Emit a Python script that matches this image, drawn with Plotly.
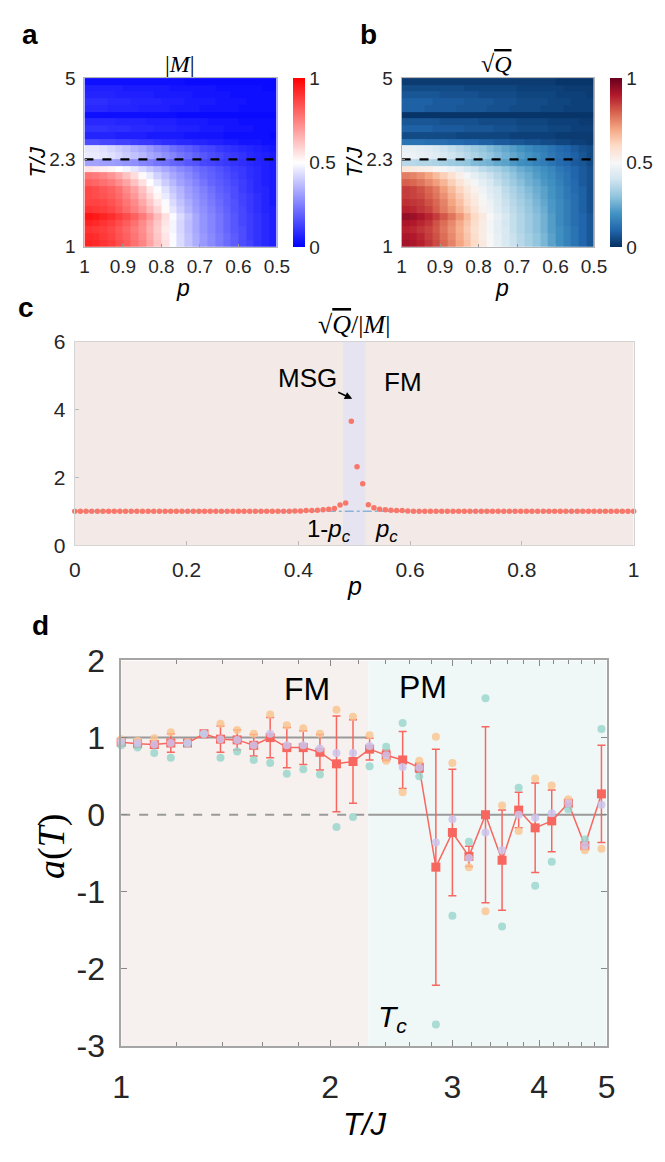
import math
import plotly.graph_objects as go

W, H = 665, 1162
def X(px): return px / W
def Y(py): return 1 - py / H

SANS = "Arial, 'Liberation Sans', sans-serif"
SERIF = "'Times New Roman', 'Liberation Serif', serif"
TICKC = "#262626"

# ---------------- panels a / b : heat maps ----------------
p_edges = [0.50, 0.52, 0.54, 0.56, 0.58, 0.60, 0.62, 0.64, 0.66, 0.68, 0.70, 0.72, 0.74,
           0.76, 0.78, 0.80, 0.82, 0.84, 0.86, 0.88, 0.90, 0.92, 0.94, 0.96, 0.98, 1.00]
T_edges = [1.0000, 1.0665, 1.1374, 1.2131, 1.2937, 1.3797, 1.4715, 1.5693, 1.6737, 1.7850,
           1.9037, 2.0302, 2.1652, 2.3092, 2.4627, 2.6265, 2.8011, 2.9874, 3.1860, 3.3979,
           3.6238, 3.8648, 4.1218, 4.3959, 4.6882, 5.0000]

# rows: T from low to high ; columns: p from 1.0 (left) to 0.5 (right)
M_abs = [
    [.93,.92,.90,.88,.85,.82,.78,.74,.68,.62,.56,.49,.43,.38,.34,.30,.27,.24,.21,.18,.15,.13,.10,.08,.06],
    [.92,.91,.89,.87,.84,.81,.77,.73,.67,.61,.55,.49,.43,.38,.34,.30,.27,.24,.21,.18,.15,.12,.10,.08,.06],
    [.90,.89,.88,.86,.83,.80,.76,.72,.66,.60,.54,.48,.42,.37,.33,.29,.26,.23,.20,.17,.15,.12,.10,.08,.06],
    [.93,.92,.90,.88,.85,.82,.78,.73,.67,.61,.55,.48,.42,.37,.33,.29,.26,.23,.20,.17,.14,.12,.10,.08,.06],
    [.96,.95,.93,.91,.88,.85,.81,.76,.70,.63,.56,.49,.43,.38,.33,.29,.26,.23,.20,.17,.14,.12,.10,.08,.06],
    [.90,.89,.88,.86,.83,.79,.75,.70,.64,.58,.51,.45,.40,.35,.31,.28,.25,.22,.19,.16,.14,.11,.09,.07,.06],
    [.87,.87,.86,.84,.81,.77,.73,.67,.61,.55,.49,.43,.38,.34,.30,.27,.24,.21,.18,.16,.13,.11,.09,.07,.05],
    [.86,.85,.84,.82,.79,.75,.70,.64,.58,.52,.46,.41,.36,.32,.29,.26,.23,.20,.18,.15,.13,.11,.09,.07,.05],
    [.86,.85,.83,.81,.78,.73,.68,.62,.55,.49,.44,.39,.35,.31,.28,.25,.22,.19,.17,.15,.12,.10,.08,.07,.05],
    [.81,.80,.78,.76,.72,.68,.62,.56,.50,.45,.40,.36,.32,.29,.26,.23,.20,.18,.16,.14,.12,.10,.08,.06,.05],
    [.77,.76,.74,.71,.67,.62,.57,.51,.46,.41,.37,.33,.30,.27,.24,.21,.19,.17,.15,.13,.11,.09,.08,.06,.05],
    [.55,.54,.53,.52,.50,.48,.45,.42,.39,.36,.33,.30,.27,.25,.22,.20,.18,.16,.14,.12,.11,.09,.08,.06,.05],
    [.32,.32,.31,.31,.30,.29,.28,.26,.25,.23,.22,.20,.19,.17,.16,.14,.13,.12,.11,.10,.09,.08,.07,.06,.05],
    [.46,.46,.45,.44,.42,.40,.38,.36,.33,.31,.28,.26,.23,.21,.19,.17,.15,.14,.12,.11,.10,.08,.07,.06,.05],
    [.45,.45,.44,.42,.40,.38,.35,.33,.30,.27,.25,.22,.20,.18,.16,.14,.13,.11,.10,.09,.08,.07,.06,.05,.04],
    [.15,.15,.14,.14,.13,.13,.12,.11,.11,.10,.09,.09,.08,.08,.07,.07,.06,.06,.05,.05,.04,.04,.04,.03,.03],
    [.07,.07,.07,.07,.06,.06,.06,.06,.05,.05,.05,.05,.05,.04,.04,.04,.04,.04,.03,.03,.03,.03,.03,.03,.02],
    [.10,.10,.10,.09,.09,.09,.08,.08,.08,.07,.07,.07,.06,.06,.06,.05,.05,.05,.04,.04,.04,.04,.03,.03,.03],
    [.08,.08,.08,.08,.07,.07,.07,.07,.06,.06,.06,.06,.05,.05,.05,.05,.04,.04,.04,.04,.03,.03,.03,.03,.03],
    [.03,.03,.03,.03,.03,.03,.03,.03,.03,.03,.03,.03,.02,.02,.02,.02,.02,.02,.02,.02,.02,.02,.02,.02,.02],
    [.08,.08,.08,.07,.07,.07,.07,.06,.06,.06,.06,.05,.05,.05,.05,.04,.04,.04,.04,.04,.03,.03,.03,.03,.03],
    [.09,.09,.09,.08,.08,.08,.07,.07,.07,.07,.06,.06,.06,.05,.05,.05,.05,.04,.04,.04,.04,.03,.03,.03,.03],
    [.07,.07,.07,.07,.06,.06,.06,.06,.06,.05,.05,.05,.05,.05,.04,.04,.04,.04,.04,.03,.03,.03,.03,.03,.03],
    [.06,.06,.06,.06,.06,.05,.05,.05,.05,.05,.05,.04,.04,.04,.04,.04,.04,.03,.03,.03,.03,.03,.03,.02,.02],
    [.03,.03,.03,.03,.03,.03,.03,.03,.03,.03,.03,.03,.03,.02,.02,.02,.02,.02,.02,.02,.02,.02,.02,.02,.02],
]
sqrt_Q = [
    [.92,.91,.89,.86,.83,.79,.75,.70,.65,.60,.55,.50,.46,.42,.39,.36,.33,.30,.27,.23,.19,.16,.13,.10,.07],
    [.91,.90,.88,.85,.82,.78,.74,.69,.64,.59,.54,.50,.46,.42,.39,.36,.33,.30,.27,.23,.19,.16,.13,.10,.07],
    [.89,.88,.86,.84,.81,.77,.73,.68,.63,.58,.54,.49,.45,.42,.38,.35,.32,.29,.26,.22,.19,.16,.13,.10,.07],
    [.91,.90,.88,.86,.82,.78,.74,.69,.64,.59,.54,.49,.45,.41,.38,.35,.32,.29,.26,.22,.18,.15,.12,.10,.07],
    [.94,.93,.91,.88,.85,.81,.77,.72,.66,.60,.55,.50,.46,.42,.38,.35,.32,.29,.26,.22,.18,.15,.12,.10,.07],
    [.89,.88,.86,.84,.80,.76,.72,.67,.62,.57,.52,.48,.44,.40,.37,.34,.31,.28,.25,.21,.18,.15,.12,.09,.06],
    [.87,.86,.85,.82,.79,.75,.70,.65,.60,.55,.51,.47,.43,.39,.36,.33,.30,.27,.24,.21,.18,.15,.12,.09,.06],
    [.85,.84,.83,.80,.77,.73,.68,.63,.58,.54,.49,.45,.42,.38,.35,.32,.29,.26,.23,.20,.17,.14,.12,.09,.06],
    [.85,.84,.82,.79,.76,.71,.66,.61,.56,.52,.48,.44,.41,.37,.34,.31,.28,.25,.23,.20,.17,.14,.11,.09,.06],
    [.80,.79,.77,.74,.71,.67,.62,.57,.53,.49,.45,.42,.38,.35,.32,.29,.26,.24,.21,.19,.16,.13,.11,.08,.06],
    [.76,.75,.73,.70,.66,.62,.58,.53,.49,.45,.42,.39,.36,.33,.30,.27,.25,.22,.20,.18,.15,.13,.10,.08,.06],
    [.56,.55,.54,.53,.51,.49,.47,.45,.42,.40,.37,.35,.33,.30,.28,.25,.23,.21,.19,.17,.14,.12,.10,.08,.06],
    [.36,.36,.35,.35,.34,.33,.32,.31,.30,.28,.27,.26,.24,.23,.21,.19,.18,.16,.15,.13,.11,.10,.08,.07,.05],
    [.47,.47,.46,.45,.44,.42,.40,.38,.36,.34,.32,.30,.28,.26,.24,.22,.20,.18,.16,.14,.12,.11,.09,.07,.05],
    [.46,.46,.45,.44,.42,.40,.38,.36,.34,.32,.30,.28,.26,.24,.22,.20,.18,.16,.15,.13,.11,.10,.08,.06,.05],
    [.13,.13,.13,.12,.12,.12,.11,.11,.10,.10,.09,.09,.08,.08,.07,.07,.06,.06,.05,.05,.04,.04,.03,.03,.02],
    [.05,.05,.05,.05,.05,.05,.05,.04,.04,.04,.04,.04,.04,.04,.03,.03,.03,.03,.03,.03,.02,.02,.02,.02,.02],
    [.09,.09,.09,.09,.08,.08,.08,.08,.07,.07,.07,.07,.06,.06,.06,.05,.05,.05,.05,.04,.04,.04,.03,.03,.03],
    [.07,.07,.07,.07,.07,.06,.06,.06,.06,.06,.05,.05,.05,.05,.05,.04,.04,.04,.04,.03,.03,.03,.03,.02,.02],
    [.01,.01,.01,.01,.01,.01,.01,.01,.01,.01,.01,.01,.01,.01,.01,.01,.01,.01,.01,.01,.01,.01,.01,.01,.01],
    [.09,.09,.09,.08,.08,.08,.08,.07,.07,.07,.07,.06,.06,.06,.05,.05,.05,.05,.04,.04,.04,.03,.03,.03,.03],
    [.09,.09,.09,.09,.08,.08,.08,.08,.07,.07,.07,.07,.06,.06,.06,.05,.05,.05,.05,.04,.04,.04,.03,.03,.03],
    [.07,.07,.07,.07,.07,.06,.06,.06,.06,.06,.05,.05,.05,.05,.05,.04,.04,.04,.04,.04,.03,.03,.03,.03,.02],
    [.05,.05,.05,.05,.05,.05,.05,.05,.04,.04,.04,.04,.04,.04,.04,.03,.03,.03,.03,.03,.03,.02,.02,.02,.02],
    [.02,.02,.02,.02,.02,.02,.02,.02,.02,.02,.02,.02,.02,.02,.02,.02,.02,.02,.02,.02,.01,.01,.01,.01,.01],
]
T_line = 2.3

# ---------------- panel c ----------------
p_c = [0.0000, 0.0101, 0.0202, 0.0303, 0.0404, 0.0505, 0.0606, 0.0707, 0.0808, 0.0909,
       0.1010, 0.1111, 0.1212, 0.1313, 0.1414, 0.1515, 0.1616, 0.1717, 0.1818, 0.1919,
       0.2020, 0.2121, 0.2222, 0.2323, 0.2424, 0.2525, 0.2626, 0.2727, 0.2828, 0.2929,
       0.3030, 0.3131, 0.3232, 0.3333, 0.3434, 0.3535, 0.3636, 0.3737, 0.3838, 0.3939,
       0.4040, 0.4141, 0.4242, 0.4343, 0.4444, 0.4545, 0.4646, 0.4747, 0.4848, 0.4949,
       0.5051, 0.5152, 0.5253, 0.5354, 0.5455, 0.5556, 0.5657, 0.5758, 0.5859, 0.5960,
       0.6061, 0.6162, 0.6263, 0.6364, 0.6465, 0.6566, 0.6667, 0.6768, 0.6869, 0.6970,
       0.7071, 0.7172, 0.7273, 0.7374, 0.7475, 0.7576, 0.7677, 0.7778, 0.7879, 0.7980,
       0.8081, 0.8182, 0.8283, 0.8384, 0.8485, 0.8586, 0.8687, 0.8788, 0.8889, 0.8990,
       0.9091, 0.9192, 0.9293, 0.9394, 0.9495, 0.9596, 0.9697, 0.9798, 0.9899, 1.0000]
ratio_c = [1.00, 1.00, 1.00, 1.00, 1.00, 1.00, 1.00, 1.00, 1.00, 1.00,
           1.00, 1.00, 1.00, 1.00, 1.00, 1.00, 1.00, 1.00, 1.00, 1.00,
           1.00, 1.00, 1.00, 1.00, 1.00, 1.00, 1.00, 1.00, 1.00, 1.00,
           1.00, 1.00, 1.00, 1.00, 1.00, 1.00, 1.00, 1.00, 1.00, 1.01,
           1.01, 1.02, 1.02, 1.03, 1.04, 1.06, 1.08, 1.18, 1.24, 3.65,
           2.31, 1.81, 1.19, 1.10, 1.06, 1.04, 1.03, 1.02, 1.02, 1.01,
           1.00, 1.00, 1.00, 1.00, 1.00, 1.00, 1.00, 1.00, 1.00, 1.00,
           1.00, 1.00, 1.00, 1.00, 1.00, 1.00, 1.00, 1.00, 1.00, 1.00,
           1.00, 1.00, 1.00, 1.00, 1.00, 1.00, 1.00, 1.00, 1.00, 1.00,
           1.00, 1.00, 1.00, 1.00, 1.00, 1.00, 1.00, 1.00, 1.00, 1.00]
pc_low, pc_high = 0.48, 0.52
ref_c = [1.0, 1.0]
ref_c_x = [0.0, 1.0]

# ---------------- panel d ----------------
T_d = [1.000, 1.056, 1.116, 1.179, 1.246, 1.316, 1.390, 1.469, 1.552, 1.639,
       1.732, 1.829, 1.933, 2.042, 2.157, 2.279, 2.408, 2.543, 2.687, 2.839,
       2.999, 3.168, 3.347, 3.536, 3.736, 3.946, 4.169, 4.405, 4.653, 4.916]
a_mean = [0.94, 0.92, 0.91, 0.93, 0.93, 1.05, 0.98, 0.97, 0.90, 1.00,
          0.87, 0.87, 0.81, 0.66, 0.69, 0.85, 0.77, 0.71, 0.61, -0.68,
          -0.23, -0.54, 0.00, -0.59, 0.06, -0.17, -0.08, 0.15, -0.40, 0.27]
a_err = [0.03, 0.03, 0.04, 0.12, 0.01, 0.01, 0.17, 0.13, 0.14, 0.26,
         0.26, 0.22, 0.23, 0.62, 0.54, 0.14, 0.07, 0.37, 0.06, 1.53,
         0.82, 0.13, 1.14, 0.65, 0.23, 0.58, 0.40, 0.04, 0.05, 0.63]
a_orange = [0.98, 0.96, 0.99, 1.07, 0.94, 1.05, 1.18, 1.10, 1.05, 1.30,
            1.16, 1.12, 1.05, 1.36, 1.27, 1.03, 0.70, 0.29, 0.70, 1.01,
            0.67, -0.68, -1.25, 0.12, -0.21, 0.47, 0.38, 0.20, -0.46, -0.44]
a_teal = [0.90, 0.87, 0.80, 0.74, 0.92, 1.05, 0.74, 0.82, 0.71, 0.67,
          0.53, 0.59, 0.52, -0.16, -0.03, 0.63, 0.88, 1.19, 0.50, -2.72,
          -1.31, -0.35, 1.51, -1.45, 0.35, -0.92, -0.61, 0.07, -0.32, 1.11]
a_lav = [0.95, 0.93, 0.91, 0.93, 0.93, 1.05, 0.98, 0.97, 0.90, 1.05,
         0.90, 0.90, 0.86, 0.80, 0.80, 0.89, 0.77, 0.62, 0.61, -0.36,
         -0.06, -0.56, -0.23, -0.46, 0.00, -0.04, 0.02, 0.15, -0.40, 0.13]
T_c = 2.269
T_min, T_max = 1.0, 5.0
a_min, a_max = -3.0, 2.0

# ---------------- figure ----------------
fig = go.Figure()

bwr = [[0, "rgb(0,0,255)"], [0.5, "rgb(255,255,255)"], [1, "rgb(255,0,0)"]]
rdbu = [[0.0, "rgb(5,48,97)"], [0.1, "rgb(33,102,172)"], [0.2, "rgb(67,147,195)"],
        [0.3, "rgb(146,197,222)"], [0.4, "rgb(209,229,240)"], [0.5, "rgb(247,247,247)"],
        [0.6, "rgb(253,219,199)"], [0.7, "rgb(244,165,130)"], [0.8, "rgb(214,96,77)"],
        [0.9, "rgb(178,24,43)"], [1.0, "rgb(103,0,31)"]]

def cbar(xpx):
    return dict(x=X(xpx), xanchor="left", xpad=0, ypad=0, y=Y(149), yanchor="middle",
                len=174 / H, lenmode="fraction", thickness=12, thicknessmode="pixels",
                outlinewidth=0, tickvals=[0, 0.5, 1], ticktext=["0", "0.5", "1"],
                ticks="", tickfont=dict(family=SANS, size=19, color=TICKC))

fig.add_trace(go.Heatmap(z=[r[::-1] for r in M_abs], x=p_edges, y=T_edges, zmin=0, zmax=1,
                         colorscale=bwr, colorbar=cbar(294), xaxis="x", yaxis="y"))
fig.add_trace(go.Heatmap(z=[r[::-1] for r in sqrt_Q], x=p_edges, y=T_edges, zmin=0, zmax=1,
                         colorscale=rdbu, colorbar=cbar(622), xaxis="x2", yaxis="y2"))
for xa, ya in (("x", "y"), ("x2", "y2")):
    fig.add_trace(go.Scatter(x=[1.0, 0.505], y=[T_line, T_line], mode="lines",
                             line=dict(color="black", width=2.2, dash="dash"),
                             xaxis=xa, yaxis=ya, hoverinfo="skip"))

# panel c
fig.add_trace(go.Scatter(x=ref_c_x, y=ref_c, mode="lines",
                         line=dict(color="#8cb3d6", width=1.5, dash="dashdot"),
                         xaxis="x3", yaxis="y3", hoverinfo="skip"))
fig.add_trace(go.Scatter(x=p_c, y=ratio_c, mode="markers",
                         marker=dict(color="#f7776b", size=5.5),
                         xaxis="x3", yaxis="y3", cliponaxis=False))

# panel d backgrounds
fig.add_trace(go.Scatter(x=[T_min, T_c, T_c, T_min, T_min], y=[a_min, a_min, a_max, a_max, a_min],
                         fill="toself", fillcolor="#f6f1ee", mode="lines", line=dict(width=0),
                         xaxis="x4", yaxis="y4", hoverinfo="skip"))
fig.add_trace(go.Scatter(x=[T_c, T_max, T_max, T_c, T_c], y=[a_min, a_min, a_max, a_max, a_min],
                         fill="toself", fillcolor="#f0f7f7", mode="lines", line=dict(width=0),
                         xaxis="x4", yaxis="y4", hoverinfo="skip"))
GR = "#9a9a9a"
fig.add_trace(go.Scatter(x=[T_min, T_c], y=[1, 1], mode="lines", line=dict(color=GR, width=2),
                         xaxis="x4", yaxis="y4", hoverinfo="skip"))
fig.add_trace(go.Scatter(x=[T_min, T_c], y=[0, 0], mode="lines",
                         line=dict(color=GR, width=2, dash="dash"),
                         xaxis="x4", yaxis="y4", hoverinfo="skip"))
fig.add_trace(go.Scatter(x=[T_c, T_max], y=[0, 0], mode="lines", line=dict(color=GR, width=2),
                         xaxis="x4", yaxis="y4", hoverinfo="skip"))
RED = "#f7675f"
fig.add_trace(go.Scatter(x=T_d, y=a_mean, mode="lines+markers",
                         line=dict(color=RED, width=1.5),
                         marker=dict(symbol="square", size=9, color=RED),
                         error_y=dict(type="data", array=a_err, visible=True, color=RED,
                                      thickness=1.5, width=4),
                         xaxis="x4", yaxis="y4", cliponaxis=False))
for ys, col in ((a_orange, "rgba(250,195,140,0.8)"), (a_teal, "rgba(150,212,203,0.8)"),
                (a_lav, "rgba(204,196,236,0.85)")):
    fig.add_trace(go.Scatter(x=T_d, y=ys, mode="markers", marker=dict(size=8, color=col),
                             xaxis="x4", yaxis="y4", cliponaxis=False))

# ---------------- axes ----------------
def hm_x(dom, anchor):
    return dict(domain=dom, anchor=anchor, range=[1, 0.5], autorange=False,
                tickvals=[1, 0.9, 0.8, 0.7, 0.6, 0.5], ticktext=["1", "0.9", "0.8", "0.7", "0.6", "0.5"],
                ticks="inside", ticklen=3, tickcolor="#999", showline=True, linecolor="#b5b5b5",
                linewidth=1, mirror=True, showgrid=False, zeroline=False,
                tickfont=dict(family=SANS, size=19, color=TICKC), ticklabelstandoff=3)

def hm_y(dom, anchor):
    return dict(domain=dom, anchor=anchor, type="log", range=[0, math.log10(5)], autorange=False,
                tickvals=[1, 2.3, 5], ticktext=["1", "2.3", "5"],
                ticks="inside", ticklen=3, tickcolor="#999", showline=True, linecolor="#b5b5b5",
                linewidth=1, mirror=True, showgrid=False, zeroline=False,
                tickfont=dict(family=SANS, size=19, color=TICKC), ticklabelstandoff=4)

ydom_ab = [Y(236), Y(62)]
layout_axes = dict(
    xaxis=hm_x([X(78), X(277)], "y"),
    yaxis=hm_y(ydom_ab, "x"),
    xaxis2=hm_x([X(406), X(605)], "y2"),
    yaxis2=hm_y(ydom_ab, "x2"),
    xaxis3=dict(domain=[X(68), X(646)], anchor="y3", range=[0, 1], autorange=False,
                tickvals=[0, 0.2, 0.4, 0.6, 0.8, 1], ticktext=["0", "0.2", "0.4", "0.6", "0.8", "1"],
                ticks="inside", ticklen=4, tickcolor="#bbb", showline=True, linecolor="#d4d4d4",
                mirror=True, showgrid=False, zeroline=False,
                tickfont=dict(family=SANS, size=21, color=TICKC), ticklabelstandoff=6),
    yaxis3=dict(domain=[Y(544), Y(334)], anchor="x3", range=[0, 6], autorange=False,
                tickvals=[0, 2, 4, 6], ticktext=["0", "2", "4", "6"],
                ticks="inside", ticklen=4, tickcolor="#bbb", showline=True, linecolor="#d4d4d4",
                mirror=True, showgrid=False, zeroline=False,
                tickfont=dict(family=SANS, size=21, color=TICKC), ticklabelstandoff=4),
    xaxis4=dict(domain=[X(116), X(618)], anchor="y4", type="log", range=[0, math.log10(5)],
                autorange=False, tickvals=[1, 2, 3, 4, 5], ticktext=["1", "2", "3", "4", "5"],
                ticks="inside", ticklen=6, tickcolor="#888", showline=True, linecolor="#a5a5a5",
                linewidth=1.5, mirror="allticks", showgrid=False, zeroline=False,
                minor=dict(ticks="inside", ticklen=4, tickcolor="#888",
                           tickvals=[1.2, 1.4, 1.6, 1.8, 2.2, 2.4, 2.6, 2.8, 3.2, 3.4, 3.6, 3.8,
                                     4.2, 4.4, 4.6, 4.8], showgrid=False),
                tickfont=dict(family=SANS, size=32, color=TICKC), ticklabelstandoff=12),
    yaxis4=dict(domain=[Y(1061), Y(663)], anchor="x4", range=[a_min, a_max], autorange=False,
                tickvals=[-3, -2, -1, 0, 1, 2], ticktext=["-3", "-2", "-1", "0", "1", "2"],
                ticks="inside", ticklen=6, tickcolor="#888", showline=True, linecolor="#a5a5a5",
                linewidth=1.5, mirror="allticks", showgrid=False, zeroline=False,
                tickfont=dict(family=SANS, size=32, color=TICKC), ticklabelstandoff=8),
)

def ann(text, xpx, ypx, size, family=SANS, color="black", angle=0, **kw):
    return dict(text=text, x=X(xpx), y=Y(ypx), xref="paper", yref="paper", showarrow=False,
                xanchor="center", yanchor="middle", textangle=angle,
                font=dict(family=family, size=size, color=color), **kw)

annotations = [
    ann("<b>a</b>", 22, 17, 28), ann("<b>b</b>", 372, 17, 28),
    ann("<b>c</b>", 18, 299, 28), ann("<b>d</b>", 33, 627, 28),
    ann("|<i>M</i>|", 177, 47, 24, SERIF),
    ann("√<span style='text-decoration:overline'><i>Q</i></span>", 504, 47, 24, SERIF),
    ann("<i>T/J</i>", 29, 148, 22, angle=-90), ann("<i>T/J</i>", 357, 148, 22, angle=-90),
    ann("<i>p</i>", 180, 279, 23), ann("<i>p</i>", 510, 279, 23),
    ann("√<span style='text-decoration:overline'><i>Q</i></span>/|<i>M</i>|", 357, 316, 26, SERIF),
    ann("FM", 407, 376, 26),
    ann("1-<i>p</i><sub><i>c</i></sub>", 331, 529, 24),
    ann("<i>p</i><sub><i>c</i></sub>", 390, 529, 24),
    ann("<i>p</i>", 357, 586, 25),
    ann("FM", 308, 692, 32), ann("PM", 428, 690, 32),
    ann("<i>T</i><sub><i>c</i></sub>", 397, 1033, 30),
    ann("<i>T/J</i>", 368, 1142, 31),
    ann("<i>a</i>(<i>T</i>)", 44, 855, 38, SERIF, angle=-90),
    dict(text="MSG", x=X(355), y=Y(393), xref="paper", yref="paper", showarrow=True,
         ax=-45, ay=-21, arrowhead=2, arrowsize=1, arrowwidth=1.5, arrowcolor="black",
         font=dict(family=SANS, size=26, color="black")),
]

shapes = [
    dict(type="rect", xref="x3", yref="y3", x0=0, x1=1, y0=0, y1=6, fillcolor="#f3e9e6",
         line=dict(width=0), layer="below"),
    dict(type="rect", xref="x3", yref="y3", x0=pc_low, x1=pc_high, y0=0, y1=6, fillcolor="#e6e4f1",
         line=dict(width=0), layer="below"),
]

fig.update_layout(width=W, height=H, margin=dict(l=0, r=0, t=0, b=0),
                  paper_bgcolor="white", plot_bgcolor="rgba(0,0,0,0)", showlegend=False,
                  annotations=annotations, shapes=shapes, **layout_axes)

fig.write_html("out.html")
